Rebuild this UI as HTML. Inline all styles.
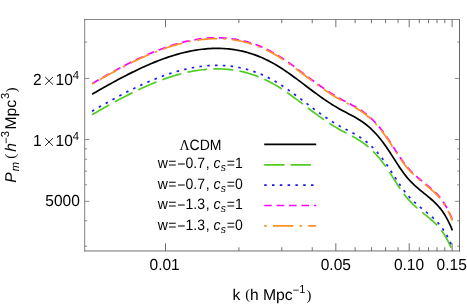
<!DOCTYPE html>
<html><head><meta charset="utf-8"><title>Matter power spectrum</title>
<style>html,body{margin:0;padding:0;background:#fff;}body{width:467px;height:306px;position:relative;overflow:hidden;font-family:"Liberation Sans",sans-serif;}</style>
</head><body>
<svg width="467" height="306" viewBox="0 0 467 306" style="display:block;position:absolute;left:0;top:0;will-change:transform">
<rect x="0" y="0" width="467" height="306" fill="#fff"/>
<filter id="g" x="0" y="0" width="467" height="306" filterUnits="userSpaceOnUse"><feOffset dx="0" dy="0"/></filter>
<clipPath id="c"><rect x="84.8" y="19.5" width="374.7" height="231.45"/></clipPath>
<g clip-path="url(#c)" fill="none" stroke-width="1.7">
<path d="M92.10 94.23 L94.10 93.07 L96.10 91.91 L98.10 90.76 L100.11 89.61 L102.11 88.47 L104.11 87.34 L106.11 86.21 L108.11 85.09 L110.11 83.98 L112.12 82.87 L114.12 81.78 L116.12 80.69 L118.12 79.61 L120.12 78.54 L122.12 77.49 L124.13 76.44 L126.13 75.41 L128.13 74.38 L130.13 73.37 L132.13 72.38 L134.13 71.39 L136.14 70.42 L138.14 69.47 L140.14 68.53 L142.14 67.60 L144.14 66.69 L146.14 65.80 L148.15 64.92 L150.15 64.06 L152.15 63.22 L154.15 62.39 L156.15 61.59 L158.15 60.80 L160.16 60.03 L162.16 59.29 L164.16 58.56 L166.16 57.85 L168.16 57.17 L170.16 56.51 L172.17 55.86 L174.17 55.25 L176.17 54.65 L178.17 54.08 L180.17 53.54 L182.17 53.01 L184.18 52.52 L186.18 52.05 L188.18 51.60 L190.18 51.18 L192.18 50.79 L194.19 50.43 L196.19 50.09 L198.19 49.78 L200.19 49.51 L202.19 49.26 L204.19 49.04 L206.19 48.85 L208.20 48.69 L210.20 48.56 L212.20 48.47 L214.20 48.41 L216.20 48.38 L218.20 48.38 L220.21 48.42 L222.21 48.49 L224.21 48.59 L226.21 48.74 L228.21 48.91 L230.21 49.12 L232.22 49.37 L234.22 49.66 L236.22 49.98 L238.22 50.34 L240.22 50.74 L242.22 51.18 L244.23 51.66 L246.23 52.18 L248.23 52.73 L250.23 53.33 L252.23 53.97 L254.23 54.65 L256.24 55.38 L258.24 56.14 L260.24 56.95 L262.24 57.81 L264.24 58.70 L266.25 59.65 L268.25 60.63 L270.25 61.66 L272.25 62.74 L274.25 63.87 L276.25 65.04 L278.25 66.25 L280.26 67.51 L282.26 68.80 L284.26 70.13 L286.26 71.49 L288.26 72.88 L290.26 74.30 L292.27 75.74 L294.27 77.20 L296.27 78.67 L298.27 80.16 L300.27 81.66 L302.27 83.17 L304.28 84.68 L306.28 86.20 L308.28 87.71 L310.28 89.22 L312.28 90.72 L314.28 92.21 L316.29 93.69 L318.29 95.15 L320.29 96.59 L322.29 98.01 L324.29 99.40 L326.29 100.77 L328.30 102.10 L330.30 103.40 L332.30 104.67 L334.30 105.90 L336.30 107.10 L338.30 108.26 L340.31 109.39 L342.31 110.49 L344.31 111.55 L346.31 112.59 L348.31 113.63 L350.31 114.67 L352.32 115.73 L354.32 116.83 L356.32 117.96 L358.32 119.16 L360.32 120.43 L362.32 121.78 L364.33 123.23 L366.33 124.78 L368.33 126.43 L370.33 128.20 L372.33 130.09 L374.33 132.11 L376.34 134.25 L378.34 136.52 L380.34 138.93 L382.34 141.48 L384.34 144.17 L386.34 147.01 L388.35 149.96 L390.35 153.01 L392.35 156.12 L394.35 159.25 L396.35 162.37 L398.36 165.44 L400.36 168.43 L402.36 171.31 L404.36 174.04 L406.36 176.59 L408.36 178.95 L410.37 181.14 L412.37 183.19 L414.37 185.10 L416.37 186.92 L418.37 188.65 L420.37 190.31 L422.38 191.94 L424.38 193.55 L426.38 195.17 L428.38 196.80 L430.38 198.49 L432.38 200.24 L434.38 202.08 L436.39 204.06 L438.39 206.22 L440.39 208.61 L442.39 211.27 L444.39 214.26 L446.39 217.62 L448.40 221.39 L450.40 225.62 L452.40 230.37" stroke="#000000"/>
<path d="M92.10 114.73 L94.10 113.57 L96.10 112.41 L98.10 111.26 L100.11 110.11 L102.11 108.97 L104.11 107.84 L106.11 106.71 L108.11 105.59 L110.11 104.48 L112.12 103.37 L114.12 102.28 L116.12 101.19 L118.12 100.11 L120.12 99.04 L122.12 97.99 L124.13 96.94 L126.13 95.91 L128.13 94.88 L130.13 93.87 L132.13 92.88 L134.13 91.89 L136.14 90.92 L138.14 89.97 L140.14 89.03 L142.14 88.10 L144.14 87.19 L146.14 86.30 L148.15 85.42 L150.15 84.56 L152.15 83.72 L154.15 82.89 L156.15 82.09 L158.15 81.30 L160.16 80.53 L162.16 79.79 L164.16 79.06 L166.16 78.35 L168.16 77.67 L170.16 77.01 L172.17 76.36 L174.17 75.75 L176.17 75.15 L178.17 74.58 L180.17 74.04 L182.17 73.51 L184.18 73.02 L186.18 72.55 L188.18 72.10 L190.18 71.68 L192.18 71.29 L194.19 70.93 L196.19 70.59 L198.19 70.28 L200.19 70.01 L202.19 69.76 L204.19 69.54 L206.19 69.35 L208.20 69.19 L210.20 69.06 L212.20 68.97 L214.20 68.91 L216.20 68.88 L218.20 68.88 L220.21 68.92 L222.21 68.99 L224.21 69.09 L226.21 69.24 L228.21 69.41 L230.21 69.62 L232.22 69.87 L234.22 70.16 L236.22 70.48 L238.22 70.84 L240.22 71.24 L242.22 71.68 L244.23 72.16 L246.23 72.68 L248.23 73.23 L250.23 73.83 L252.23 74.47 L254.23 75.15 L256.24 75.88 L258.24 76.64 L260.24 77.45 L262.24 78.31 L264.24 79.20 L266.25 80.15 L268.25 81.13 L270.25 82.16 L272.25 83.24 L274.25 84.37 L276.25 85.54 L278.25 86.75 L280.26 88.01 L282.26 89.30 L284.26 90.63 L286.26 91.99 L288.26 93.38 L290.26 94.80 L292.27 96.24 L294.27 97.70 L296.27 99.17 L298.27 100.66 L300.27 102.16 L302.27 103.67 L304.28 105.18 L306.28 106.70 L308.28 108.21 L310.28 109.72 L312.28 111.22 L314.28 112.71 L316.29 114.19 L318.29 115.65 L320.29 117.09 L322.29 118.51 L324.29 119.90 L326.29 121.27 L328.30 122.60 L330.30 123.90 L332.30 125.17 L334.30 126.40 L336.30 127.60 L338.30 128.76 L340.31 129.89 L342.31 130.99 L344.31 132.05 L346.31 133.09 L348.31 134.13 L350.31 135.17 L352.32 136.23 L354.32 137.33 L356.32 138.46 L358.32 139.66 L360.32 140.93 L362.32 142.28 L364.33 143.73 L366.33 145.28 L368.33 146.93 L370.33 148.70 L372.33 150.59 L374.33 152.61 L376.34 154.75 L378.34 157.02 L380.34 159.43 L382.34 161.98 L384.34 164.67 L386.34 167.51 L388.35 170.46 L390.35 173.51 L392.35 176.62 L394.35 179.75 L396.35 182.87 L398.36 185.94 L400.36 188.93 L402.36 191.81 L404.36 194.54 L406.36 197.09 L408.36 199.45 L410.37 201.64 L412.37 203.69 L414.37 205.60 L416.37 207.42 L418.37 209.15 L420.37 210.81 L422.38 212.44 L424.38 214.05 L426.38 215.67 L428.38 217.30 L430.38 218.99 L432.38 220.74 L434.38 222.58 L436.39 224.56 L438.39 226.72 L440.39 229.11 L442.39 231.77 L444.39 234.76 L446.39 238.12 L448.40 241.89 L450.40 246.12 L452.40 250.87" stroke="#50cd23" stroke-dasharray="19.9 6.3"/>
<path d="M92.10 111.23 L94.10 110.07 L96.10 108.91 L98.10 107.76 L100.11 106.61 L102.11 105.47 L104.11 104.34 L106.11 103.21 L108.11 102.09 L110.11 100.98 L112.12 99.87 L114.12 98.78 L116.12 97.69 L118.12 96.61 L120.12 95.54 L122.12 94.49 L124.13 93.44 L126.13 92.41 L128.13 91.38 L130.13 90.37 L132.13 89.38 L134.13 88.39 L136.14 87.42 L138.14 86.47 L140.14 85.53 L142.14 84.60 L144.14 83.69 L146.14 82.80 L148.15 81.92 L150.15 81.06 L152.15 80.22 L154.15 79.39 L156.15 78.59 L158.15 77.80 L160.16 77.03 L162.16 76.29 L164.16 75.56 L166.16 74.85 L168.16 74.17 L170.16 73.51 L172.17 72.86 L174.17 72.25 L176.17 71.65 L178.17 71.08 L180.17 70.54 L182.17 70.01 L184.18 69.52 L186.18 69.05 L188.18 68.60 L190.18 68.18 L192.18 67.79 L194.19 67.43 L196.19 67.09 L198.19 66.78 L200.19 66.51 L202.19 66.26 L204.19 66.04 L206.19 65.85 L208.20 65.69 L210.20 65.56 L212.20 65.47 L214.20 65.41 L216.20 65.38 L218.20 65.38 L220.21 65.42 L222.21 65.49 L224.21 65.59 L226.21 65.74 L228.21 65.91 L230.21 66.12 L232.22 66.37 L234.22 66.66 L236.22 66.98 L238.22 67.34 L240.22 67.74 L242.22 68.18 L244.23 68.66 L246.23 69.18 L248.23 69.73 L250.23 70.33 L252.23 70.97 L254.23 71.65 L256.24 72.38 L258.24 73.14 L260.24 73.95 L262.24 74.81 L264.24 75.70 L266.25 76.65 L268.25 77.63 L270.25 78.66 L272.25 79.74 L274.25 80.87 L276.25 82.04 L278.25 83.25 L280.26 84.51 L282.26 85.80 L284.26 87.13 L286.26 88.49 L288.26 89.88 L290.26 91.30 L292.27 92.74 L294.27 94.20 L296.27 95.67 L298.27 97.16 L300.27 98.66 L302.27 100.17 L304.28 101.68 L306.28 103.20 L308.28 104.71 L310.28 106.22 L312.28 107.72 L314.28 109.21 L316.29 110.69 L318.29 112.15 L320.29 113.59 L322.29 115.01 L324.29 116.40 L326.29 117.77 L328.30 119.10 L330.30 120.40 L332.30 121.67 L334.30 122.90 L336.30 124.10 L338.30 125.26 L340.31 126.39 L342.31 127.49 L344.31 128.55 L346.31 129.59 L348.31 130.63 L350.31 131.67 L352.32 132.73 L354.32 133.83 L356.32 134.96 L358.32 136.16 L360.32 137.43 L362.32 138.78 L364.33 140.23 L366.33 141.78 L368.33 143.43 L370.33 145.20 L372.33 147.09 L374.33 149.11 L376.34 151.25 L378.34 153.52 L380.34 155.93 L382.34 158.48 L384.34 161.17 L386.34 164.01 L388.35 166.96 L390.35 170.01 L392.35 173.12 L394.35 176.25 L396.35 179.37 L398.36 182.44 L400.36 185.43 L402.36 188.31 L404.36 191.04 L406.36 193.59 L408.36 195.95 L410.37 198.14 L412.37 200.19 L414.37 202.10 L416.37 203.92 L418.37 205.65 L420.37 207.31 L422.38 208.94 L424.38 210.55 L426.38 212.17 L428.38 213.80 L430.38 215.49 L432.38 217.24 L434.38 219.08 L436.39 221.06 L438.39 223.22 L440.39 225.61 L442.39 228.27 L444.39 231.26 L446.39 234.62 L448.40 238.39 L450.40 242.62 L452.40 247.37" stroke="#1919f0" stroke-dasharray="2.5 5.3"/>
<path d="M92.10 83.63 L94.10 82.47 L96.10 81.31 L98.10 80.16 L100.11 79.01 L102.11 77.87 L104.11 76.74 L106.11 75.61 L108.11 74.49 L110.11 73.38 L112.12 72.27 L114.12 71.18 L116.12 70.09 L118.12 69.01 L120.12 67.94 L122.12 66.89 L124.13 65.84 L126.13 64.81 L128.13 63.78 L130.13 62.77 L132.13 61.78 L134.13 60.79 L136.14 59.82 L138.14 58.87 L140.14 57.93 L142.14 57.00 L144.14 56.09 L146.14 55.20 L148.15 54.32 L150.15 53.46 L152.15 52.62 L154.15 51.79 L156.15 50.99 L158.15 50.20 L160.16 49.43 L162.16 48.69 L164.16 47.96 L166.16 47.25 L168.16 46.57 L170.16 45.91 L172.17 45.26 L174.17 44.65 L176.17 44.05 L178.17 43.48 L180.17 42.94 L182.17 42.41 L184.18 41.92 L186.18 41.45 L188.18 41.00 L190.18 40.58 L192.18 40.19 L194.19 39.83 L196.19 39.49 L198.19 39.18 L200.19 38.91 L202.19 38.66 L204.19 38.44 L206.19 38.25 L208.20 38.09 L210.20 37.96 L212.20 37.87 L214.20 37.81 L216.20 37.78 L218.20 37.78 L220.21 37.82 L222.21 37.89 L224.21 37.99 L226.21 38.14 L228.21 38.31 L230.21 38.52 L232.22 38.77 L234.22 39.06 L236.22 39.38 L238.22 39.74 L240.22 40.14 L242.22 40.58 L244.23 41.06 L246.23 41.58 L248.23 42.13 L250.23 42.73 L252.23 43.37 L254.23 44.05 L256.24 44.78 L258.24 45.54 L260.24 46.35 L262.24 47.21 L264.24 48.10 L266.25 49.05 L268.25 50.03 L270.25 51.06 L272.25 52.14 L274.25 53.27 L276.25 54.44 L278.25 55.65 L280.26 56.91 L282.26 58.20 L284.26 59.53 L286.26 60.89 L288.26 62.28 L290.26 63.70 L292.27 65.14 L294.27 66.60 L296.27 68.07 L298.27 69.56 L300.27 71.06 L302.27 72.57 L304.28 74.08 L306.28 75.60 L308.28 77.11 L310.28 78.62 L312.28 80.12 L314.28 81.61 L316.29 83.09 L318.29 84.55 L320.29 85.99 L322.29 87.41 L324.29 88.80 L326.29 90.17 L328.30 91.50 L330.30 92.80 L332.30 94.07 L334.30 95.30 L336.30 96.50 L338.30 97.66 L340.31 98.79 L342.31 99.89 L344.31 100.95 L346.31 101.99 L348.31 103.03 L350.31 104.07 L352.32 105.13 L354.32 106.23 L356.32 107.36 L358.32 108.56 L360.32 109.83 L362.32 111.18 L364.33 112.63 L366.33 114.18 L368.33 115.83 L370.33 117.60 L372.33 119.49 L374.33 121.51 L376.34 123.65 L378.34 125.92 L380.34 128.33 L382.34 130.88 L384.34 133.57 L386.34 136.41 L388.35 139.36 L390.35 142.41 L392.35 145.52 L394.35 148.65 L396.35 151.77 L398.36 154.84 L400.36 157.83 L402.36 160.71 L404.36 163.44 L406.36 165.99 L408.36 168.35 L410.37 170.54 L412.37 172.59 L414.37 174.50 L416.37 176.32 L418.37 178.05 L420.37 179.71 L422.38 181.34 L424.38 182.95 L426.38 184.57 L428.38 186.20 L430.38 187.89 L432.38 189.64 L434.38 191.48 L436.39 193.46 L438.39 195.62 L440.39 198.01 L442.39 200.67 L444.39 203.66 L446.39 207.02 L448.40 210.79 L450.40 215.02 L452.40 219.77" stroke="#ff00ff" stroke-dasharray="7.6 4.82"/>
<path d="M92.10 84.13 L94.10 82.97 L96.10 81.81 L98.10 80.66 L100.11 79.51 L102.11 78.37 L104.11 77.24 L106.11 76.11 L108.11 74.99 L110.11 73.88 L112.12 72.78 L114.12 71.69 L116.12 70.61 L118.12 69.54 L120.12 68.47 L122.12 67.42 L124.13 66.38 L126.13 65.36 L128.13 64.34 L130.13 63.34 L132.13 62.35 L134.13 61.37 L136.14 60.41 L138.14 59.46 L140.14 58.53 L142.14 57.61 L144.14 56.71 L146.14 55.83 L148.15 54.96 L150.15 54.11 L152.15 53.28 L154.15 52.46 L156.15 51.67 L158.15 50.89 L160.16 50.13 L162.16 49.40 L164.16 48.68 L166.16 47.98 L168.16 47.31 L170.16 46.66 L172.17 46.02 L174.17 45.42 L176.17 44.83 L178.17 44.27 L180.17 43.73 L182.17 43.22 L184.18 42.73 L186.18 42.27 L188.18 41.83 L190.18 41.42 L192.18 41.04 L194.19 40.68 L196.19 40.35 L198.19 40.05 L200.19 39.78 L202.19 39.53 L204.19 39.32 L206.19 39.13 L208.20 38.98 L210.20 38.86 L212.20 38.77 L214.20 38.70 L216.20 38.68 L218.20 38.68 L220.21 38.72 L222.21 38.79 L224.21 38.89 L226.21 39.04 L228.21 39.21 L230.21 39.42 L232.22 39.67 L234.22 39.96 L236.22 40.28 L238.22 40.64 L240.22 41.04 L242.22 41.48 L244.23 41.96 L246.23 42.48 L248.23 43.03 L250.23 43.63 L252.23 44.27 L254.23 44.95 L256.24 45.68 L258.24 46.44 L260.24 47.25 L262.24 48.11 L264.24 49.00 L266.25 49.95 L268.25 50.93 L270.25 51.96 L272.25 53.04 L274.25 54.17 L276.25 55.34 L278.25 56.55 L280.26 57.81 L282.26 59.10 L284.26 60.43 L286.26 61.79 L288.26 63.18 L290.26 64.60 L292.27 66.04 L294.27 67.50 L296.27 68.97 L298.27 70.46 L300.27 71.96 L302.27 73.47 L304.28 74.98 L306.28 76.50 L308.28 78.01 L310.28 79.52 L312.28 81.02 L314.28 82.51 L316.29 83.99 L318.29 85.45 L320.29 86.89 L322.29 88.31 L324.29 89.70 L326.29 91.07 L328.30 92.40 L330.30 93.70 L332.30 94.97 L334.30 96.20 L336.30 97.40 L338.30 98.56 L340.31 99.69 L342.31 100.79 L344.31 101.85 L346.31 102.89 L348.31 103.93 L350.31 104.97 L352.32 106.03 L354.32 107.13 L356.32 108.26 L358.32 109.46 L360.32 110.73 L362.32 112.08 L364.33 113.53 L366.33 115.08 L368.33 116.73 L370.33 118.50 L372.33 120.39 L374.33 122.41 L376.34 124.55 L378.34 126.82 L380.34 129.23 L382.34 131.78 L384.34 134.47 L386.34 137.31 L388.35 140.26 L390.35 143.31 L392.35 146.42 L394.35 149.55 L396.35 152.67 L398.36 155.74 L400.36 158.73 L402.36 161.61 L404.36 164.34 L406.36 166.89 L408.36 169.25 L410.37 171.44 L412.37 173.49 L414.37 175.40 L416.37 177.22 L418.37 178.95 L420.37 180.61 L422.38 182.24 L424.38 183.85 L426.38 185.47 L428.38 187.10 L430.38 188.79 L432.38 190.54 L434.38 192.38 L436.39 194.36 L438.39 196.52 L440.39 198.91 L442.39 201.57 L444.39 204.56 L446.39 207.92 L448.40 211.69 L450.40 215.92 L452.40 220.67" stroke="#ff9026" stroke-dasharray="2.5 6.3 20.15 6.3"/>
</g>
<g fill="none" stroke="#606060" stroke-linecap="square"><path d="M84.8 19.5H459.5" stroke-width="0.75"/><path d="M459.5 19.5V250.95" stroke-width="0.95"/><path d="M84.8 250.95H459.5" stroke-width="0.9"/><path d="M84.7 19.5V250.95" stroke-width="0.8"/></g>
<path d="M165.50 250.95v-7.7M165.50 19.5v7.7M335.84 250.95v-7.7M335.84 19.5v7.7M409.20 250.95v-7.7M409.20 19.5v7.7M452.11 250.95v-7.7M452.11 19.5v7.7M238.86 250.95v-3.7M238.86 19.5v3.7M281.77 250.95v-3.7M281.77 19.5v3.7M312.22 250.95v-3.7M312.22 19.5v3.7M355.14 250.95v-3.7M355.14 19.5v3.7M371.45 250.95v-3.7M371.45 19.5v3.7M385.58 250.95v-3.7M385.58 19.5v3.7M398.05 250.95v-3.7M398.05 19.5v3.7M419.29 250.95v-3.7M419.29 19.5v3.7M428.50 250.95v-3.7M428.50 19.5v3.7M436.97 250.95v-3.7M436.97 19.5v3.7M444.81 250.95v-3.7M444.81 19.5v3.7" fill="none" stroke="#606060" stroke-width="0.9"/>
<path d="M84.8 201.30h4.6M459.5 201.30h-4.6M84.8 139.50h4.6M459.5 139.50h-4.6M84.8 78.45h4.6M459.5 78.45h-4.6M84.8 246.22h2.3M459.5 246.22h-2.3M84.8 220.72h2.3M459.5 220.72h-2.3M84.8 184.78h2.3M459.5 184.78h-2.3M84.8 171.12h2.3M459.5 171.12h-2.3M84.8 159.28h2.3M459.5 159.28h-2.3M84.8 148.84h2.3M459.5 148.84h-2.3M84.8 42.12h2.3M459.5 42.12h-2.3" fill="none" stroke="#606060" stroke-width="0.7"/>
<path d="M264.2 144.4H316.2" fill="none" stroke="#000000" stroke-width="1.7"/>
<path d="M264.2 164.9H316.2" fill="none" stroke="#50cd23" stroke-width="1.7" stroke-dasharray="20.3 6.1"/>
<path d="M264.2 185.2H316.2" fill="none" stroke="#1919f0" stroke-width="1.7" stroke-dasharray="2.5 5.3"/>
<path d="M264.2 205.5H316.2" fill="none" stroke="#ff00ff" stroke-width="1.7" stroke-dasharray="7.6 4.82"/>
<path d="M264.2 225.8H316.2" fill="none" stroke="#ff9026" stroke-width="1.7" stroke-dasharray="2.5 6.3 20.15 6.3"/>
<g font-family="Liberation Sans, sans-serif" font-size="16" fill="#000" filter="url(#g)" text-rendering="geometricPrecision">
<text transform="translate(164.6 269.7) scale(0.97 1)" text-anchor="middle">0.01</text>
<text transform="translate(335.8 269.7) scale(0.97 1)" text-anchor="middle">0.05</text>
<text transform="translate(409.0 269.7) scale(0.97 1)" text-anchor="middle">0.10</text>
<text transform="translate(451.7 269.7) scale(0.97 1)" text-anchor="middle">0.15</text>
<text transform="translate(33.0 84.85) scale(0.97 1)">2</text>
<path d="M45.2 76.95l7.8 7.7m0 -7.7l-7.8 7.7" stroke="#000" stroke-width="0.9" fill="none"/>
<text transform="translate(55.6 84.85) scale(0.97 1)">10</text>
<text transform="translate(72.7 79.25) scale(0.97 1)" font-size="11.7">4</text>
<text transform="translate(33.0 146.0) scale(0.97 1)">1</text>
<path d="M45.2 138.10l7.8 7.7m0 -7.7l-7.8 7.7" stroke="#000" stroke-width="0.9" fill="none"/>
<text transform="translate(55.6 146.0) scale(0.97 1)">10</text>
<text transform="translate(72.7 140.4) scale(0.97 1)" font-size="11.7">4</text>
<text transform="translate(79.8 206.45) scale(0.97 1)" text-anchor="end">5000</text>
<text x="232.5" y="299.6" font-size="15.6">k</text>
<text x="245.2" y="298.9" font-size="14.6" font-family="Liberation Serif, serif">(</text>
<text x="249.9" y="299.6" font-size="15.6">h</text>
<text transform="translate(262.9 299.6) scale(1.01 1)" font-size="15.6">Mpc</text>
<text transform="translate(292.7 293.0) scale(0.95 1)" font-size="11.7"><tspan dy="0.7">−</tspan><tspan dy="-0.7">1</tspan></text>
<text x="306.5" y="299.9" font-size="14.6" font-family="Liberation Serif, serif">)</text>
<g transform="translate(16,182.5) rotate(-90)">
<text x="-0.2" y="0" font-size="15.6" font-style="italic">P</text>
<text transform="translate(11.2 2.8) scale(0.95 1)" font-size="11.7" font-style="italic">m</text>
<text x="23.7" y="-0.7" font-size="14.6" font-family="Liberation Serif, serif">(</text>
<text x="30.8" y="0" font-size="15.6" font-style="italic">h</text>
<text transform="translate(38.8 -6.6) scale(0.95 1)" font-size="11.7"><tspan dy="0.7">−</tspan><tspan dy="-0.7">3</tspan></text>
<text transform="translate(52.9 0) scale(1.01 1)" font-size="15.6">Mpc</text>
<text transform="translate(83.6 -6.6) scale(0.95 1)" font-size="11.7">3</text>
<text x="90.2" y="0.3" font-size="14.6" font-family="Liberation Serif, serif">)</text>
</g>
<g font-size="15">
<text transform="translate(179.6 150.0) scale(0.935 1)" font-family="Liberation Serif, serif">Λ</text>
<text transform="translate(189.6 150.0) scale(0.935 1)">CDM</text>
<text transform="translate(157.7 168.1) scale(0.935 1)">w</text>
<text transform="translate(168.3 168.1) scale(0.935 1)">=</text>
<text transform="translate(177.3 168.1) scale(0.935 1)"><tspan dy="0.9">−</tspan><tspan dy="-0.9">0.7</tspan></text>
<text transform="translate(205.7 168.1) scale(0.935 1)">,</text>
<text transform="translate(213.5 168.1) scale(0.935 1)" font-style="italic">c</text>
<text transform="translate(220.8 170.9) scale(0.935 1)" font-size="11.0" font-style="italic">s</text>
<text transform="translate(226.7 168.1) scale(0.935 1)">=1</text>
<text transform="translate(157.7 188.7) scale(0.935 1)">w</text>
<text transform="translate(168.3 188.7) scale(0.935 1)">=</text>
<text transform="translate(177.3 188.7) scale(0.935 1)"><tspan dy="0.9">−</tspan><tspan dy="-0.9">0.7</tspan></text>
<text transform="translate(205.7 188.7) scale(0.935 1)">,</text>
<text transform="translate(213.5 188.7) scale(0.935 1)" font-style="italic">c</text>
<text transform="translate(220.8 191.5) scale(0.935 1)" font-size="11.0" font-style="italic">s</text>
<text transform="translate(226.7 188.7) scale(0.935 1)">=0</text>
<text transform="translate(157.7 209.2) scale(0.935 1)">w</text>
<text transform="translate(168.3 209.2) scale(0.935 1)">=</text>
<text transform="translate(177.3 209.2) scale(0.935 1)"><tspan dy="0.9">−</tspan><tspan dy="-0.9">1.3</tspan></text>
<text transform="translate(205.7 209.2) scale(0.935 1)">,</text>
<text transform="translate(213.5 209.2) scale(0.935 1)" font-style="italic">c</text>
<text transform="translate(220.8 212.0) scale(0.935 1)" font-size="11.0" font-style="italic">s</text>
<text transform="translate(226.7 209.2) scale(0.935 1)">=1</text>
<text transform="translate(157.7 229.7) scale(0.935 1)">w</text>
<text transform="translate(168.3 229.7) scale(0.935 1)">=</text>
<text transform="translate(177.3 229.7) scale(0.935 1)"><tspan dy="0.9">−</tspan><tspan dy="-0.9">1.3</tspan></text>
<text transform="translate(205.7 229.7) scale(0.935 1)">,</text>
<text transform="translate(213.5 229.7) scale(0.935 1)" font-style="italic">c</text>
<text transform="translate(220.8 232.5) scale(0.935 1)" font-size="11.0" font-style="italic">s</text>
<text transform="translate(226.7 229.7) scale(0.935 1)">=0</text>
</g>
</g>
</svg>
</body></html>
